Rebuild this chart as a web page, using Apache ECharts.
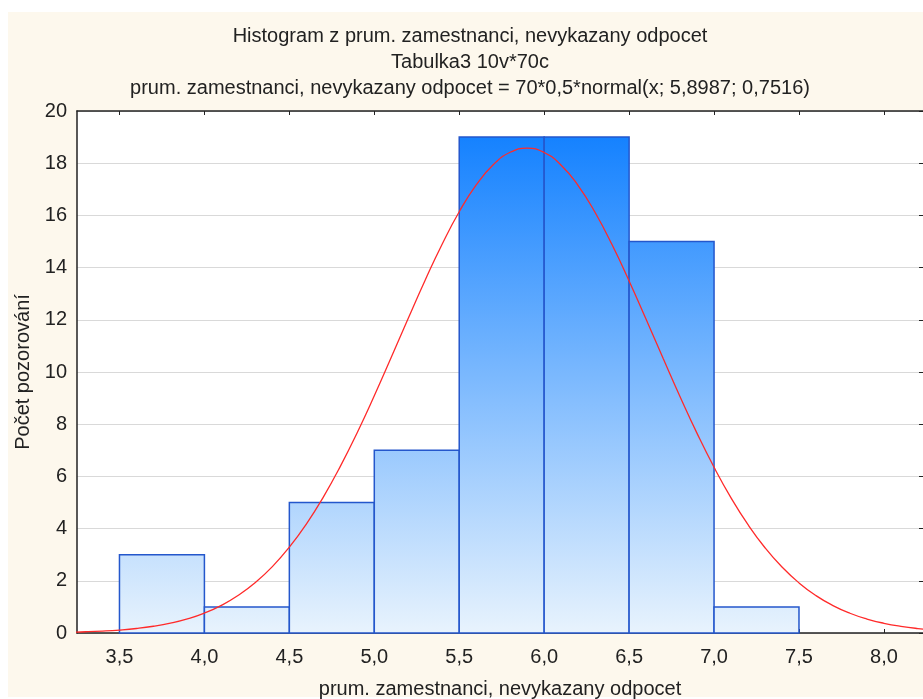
<!DOCTYPE html>
<html>
<head>
<meta charset="utf-8">
<script src="https://cdn.jsdelivr.net/npm/echarts@6/dist/echarts.min.js"></script>
<style>
html,body{margin:0;padding:0;background:#fff;}
#main{width:923px;height:699px;}
</style>
</head>
<body>
<div id="main"></div>
<script>
// ---- data ----
const binStarts = [3.5, 4.0, 4.5, 5.0, 5.5, 6.0, 6.5, 7.0];
const binWidth = 0.5;
const counts = [3, 1, 5, 7, 19, 19, 15, 1];
const curveX = [3.2, 3.3, 3.4, 3.5, 3.6, 3.7, 3.8, 3.9, 4.0, 4.1, 4.2, 4.3, 4.4, 4.5, 4.6, 4.7, 4.8, 4.9,
  5.0, 5.1, 5.2, 5.3, 5.4, 5.5, 5.6, 5.7, 5.8, 5.9, 6.0, 6.1, 6.2, 6.3, 6.4, 6.5, 6.6, 6.7, 6.8, 6.9,
  7.0, 7.1, 7.2, 7.3, 7.4, 7.5, 7.6, 7.7, 7.8, 7.9, 8.0, 8.1, 8.2, 8.3, 8.4];
const curveY = [0.030, 0.047, 0.074, 0.114, 0.173, 0.258, 0.377, 0.541, 0.764, 1.060, 1.445, 1.934, 2.544, 3.288, 4.175, 5.208, 6.383, 7.684,
  9.090, 10.563, 12.060, 13.528, 14.907, 16.140, 17.167, 17.940, 18.419, 18.578, 18.410, 17.923, 17.144, 16.110, 14.873, 13.490, 12.021, 10.524, 9.052, 7.649,
  6.350, 5.179, 4.150, 3.267, 2.527, 1.920, 1.433, 1.051, 0.757, 0.536, 0.373, 0.255, 0.171, 0.113, 0.073];
const xTicks = [3.5, 4.0, 4.5, 5.0, 5.5, 6.0, 6.5, 7.0, 7.5, 8.0];
const titleLines = [
  'Histogram z prum. zamestnanci, nevykazany odpocet',
  'Tabulka3 10v*70c',
  'prum. zamestnanci, nevykazany odpocet = 70*0,5*normal(x; 5,8987; 0,7516)'
];
const xName = 'prum. zamestnanci, nevykazany odpocet';
const yName = 'Počet pozorování';

const FONT = '"Liberation Sans", Arial, sans-serif';
const FS = 20;
const fmt = v => v.toFixed(1).replace('.', ',');

const barData = binStarts.map((s, i) => [s, s + binWidth, counts[i]]);
const curveData = curveX.map((x, i) => [x, curveY[i]]);

const chart = echarts.init(document.getElementById('main'), null, {renderer: 'canvas'});
chart.setOption({
  backgroundColor: '#ffffff',
  animation: false,
  graphic: [{
    type: 'rect', z: -10, silent: true,
    shape: {x: 8, y: 12, width: 915, height: 685},
    style: {fill: '#fdf8ed'}
  }],
  title: {
    text: titleLines.join('\n'),
    left: 465, top: 18, textAlign: 'center',
    textStyle: {fontFamily: FONT, fontSize: FS, fontWeight: 'normal', color: '#222', lineHeight: 26}
  },
  grid: {left: 77, right: 0, top: 111, bottom: 66, show: true, backgroundColor: '#ffffff', borderWidth: 0,
    containLabel: false, outerBoundsMode: 'none'},
  xAxis: [{
    type: 'value', min: 3.25, max: 8.23,
    axisLine: {show: true, onZero: false, lineStyle: {color: '#222', width: 1.5}},
    axisTick: {show: true, inside: true, length: 4, customValues: xTicks, lineStyle: {color: '#222'}},
    axisLabel: {customValues: xTicks, formatter: v => fmt(v), fontFamily: FONT, fontSize: FS, color: '#222', margin: 14},
    splitLine: {show: false},
    name: xName, nameLocation: 'middle', nameGap: 46,
    nameTextStyle: {fontFamily: FONT, fontSize: FS, color: '#222'}
  }, {
    type: 'value', min: 3.25, max: 8.23, position: 'top',
    axisLine: {show: true, onZero: false, lineStyle: {color: '#222', width: 1.5}},
    axisTick: {show: true, inside: true, length: 4, customValues: xTicks, lineStyle: {color: '#222'}},
    axisLabel: {show: false},
    splitLine: {show: false}
  }],
  yAxis: [{
    type: 'value', min: 0, max: 20, interval: 2,
    axisLine: {show: true, onZero: false, lineStyle: {color: '#222', width: 1.5}},
    axisTick: {show: false},
    axisLabel: {fontFamily: FONT, fontSize: FS, color: '#222', margin: 10},
    splitLine: {show: true, lineStyle: {color: '#d9d9d9', width: 1}},
    name: yName, nameLocation: 'middle', nameGap: 44,
    nameTextStyle: {fontFamily: FONT, fontSize: FS, color: '#222'}
  }, {
    type: 'value', min: 0, max: 20, interval: 2, position: 'right',
    axisLine: {show: false},
    axisTick: {show: true, inside: true, length: 4, lineStyle: {color: '#222'}},
    axisLabel: {show: false},
    splitLine: {show: false}
  }],
  series: [{
    type: 'custom',
    xAxisIndex: 0, yAxisIndex: 0,
    data: barData,
    z: 2,
    renderItem: function (params, api) {
      const p0 = api.coord([api.value(0), 0]);
      const p1 = api.coord([api.value(1), api.value(2)]);
      const yTop = api.coord([3.25, 20])[1];
      const yBot = api.coord([3.25, 0])[1];
      return {
        type: 'rect',
        shape: {x: p0[0], y: p1[1], width: p1[0] - p0[0], height: p0[1] - p1[1]},
        style: {
          fill: new echarts.graphic.LinearGradient(0, yTop, 0, yBot, [
            {offset: 0, color: '#0a7cff'},
            {offset: 1, color: '#e8f3fd'}
          ], true),
          stroke: '#2457cc',
          lineWidth: 1.5
        }
      };
    }
  }, {
    type: 'line',
    xAxisIndex: 0, yAxisIndex: 0,
    data: curveData,
    smooth: true,
    showSymbol: false,
    z: 5,
    lineStyle: {color: '#ff2a2a', width: 1.3}
  }]
});
</script>
</body>
</html>
